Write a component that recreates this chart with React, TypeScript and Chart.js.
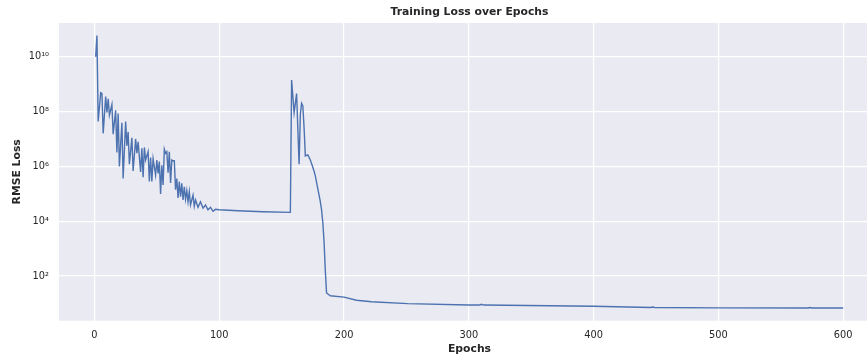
import React, { useEffect, useRef } from 'react';
import { Chart, registerables } from 'chart.js';

Chart.register(...registerables);

const TITLE = 'Training Loss over Epochs';
const X_LABEL = 'Epochs';
const Y_LABEL = 'RMSE Loss';
const X_TICKS = [0, 100, 200, 300, 400, 500, 600];
const Y_TICKS = [1e2, 1e4, 1e6, 1e8, 1e10];
const Y_TICK_LABELS = ['10²', '10⁴', '10⁶', '10⁸', '10¹⁰'];

const epochs = [
  1, 2, 3, 5, 6, 7, 9, 10, 11, 12, 14, 15, 17, 18, 19, 20, 22, 23, 25, 26, 27, 28, 30, 31, 33, 34, 35, 37, 38, 39,
  40, 41, 43, 44, 45, 46, 47, 49, 50, 51, 52, 53, 54, 55, 56, 57, 58, 59, 60, 61, 62, 63, 64, 65, 66, 67, 68, 69,
  70, 71, 72, 73, 74, 75, 76, 77, 79, 80, 81, 83, 85, 87, 89, 91, 93, 95, 97, 100, 115, 135, 157,
  158, 160, 162, 164, 165, 166, 167, 168, 169, 171, 173, 175, 176, 177, 178, 179, 180, 181, 182, 183, 184, 185, 186, 189,
  200, 210, 222, 251, 300, 309, 310, 312, 400, 446, 447, 449, 500, 572, 573, 575, 600,
];

const loss = [
  1.0e10, 5.9e10, 4.3e7, 4.9e8, 4.6e8, 1.6e7, 3.5e8, 9.3e7, 2.9e8, 7.4e7, 1.8e8, 1.5e7, 1.1e8, 3.2e6, 8.5e7, 9.8e5,
  3.9e7, 3.6e5, 4.3e7, 5.6e6, 1.8e7, 1.2e6, 1.1e7, 6.8e5, 1.0e7, 3.0e6, 7.9e6, 6.3e5, 4.6e6, 4.0e5,
  4.9e6, 1.7e6, 3.4e6, 2.8e5, 2.1e6, 2.8e5, 1.9e6, 4.8e5, 1.7e6, 5.5e5, 1.5e6, 9.8e4, 1.1e6, 2.1e5, 4.2e6, 3.0e6,
  3.4e6, 5.9e5, 3.4e6, 2.5e5, 1.7e6, 1.6e6, 1.6e6, 1.4e5, 3.6e5, 7.1e4, 2.8e5, 7.8e4,
  2.4e5, 5.9e4, 1.8e5, 6.3e4, 1.3e5, 5.1e4, 1.2e5, 3.9e4, 8.9e4, 3.5e4, 5.9e4, 3.2e4, 5.1e4, 3.0e4, 3.9e4, 2.6e4,
  3.2e4, 2.3e4, 2.7e4, 2.6e4, 2.4e4, 2.2e4, 2.1e4,
  1.4e9, 9.1e7, 4.5e8, 1.2e6, 7.9e7, 2.0e8, 1.6e8, 2.5e7, 2.4e6, 2.6e6, 1.7e6, 9.3e5, 6.6e5, 4.5e5, 2.6e5, 1.5e5,
  8.9e4, 5.2e4, 2.6e4, 8.9e3, 1.8e3, 160, 24, 19,
  17, 13, 11.5, 9.8, 8.7, 8.7, 9.3, 8.7, 7.9, 7.1, 7.4, 7.1, 6.9, 6.8, 7.1, 6.8, 6.8,
];

const FONT = 'DejaVu Sans';
const TEXT = '#262626';

export default function App() {
  const ref = useRef<HTMLCanvasElement>(null);

  useEffect(() => {
    document.body.style.margin = '0';
    const bg = {
      id: 'plotBg',
      beforeDraw(chart: any) {
        const { ctx, chartArea: a } = chart;
        ctx.save();
        ctx.fillStyle = '#EAEAF2';
        ctx.fillRect(a.left, a.top, a.right - a.left, a.bottom - a.top);
        ctx.restore();
      },
    };
    const chart = new Chart(ref.current as HTMLCanvasElement, {
      type: 'line',
      data: {
        datasets: [
          {
            data: epochs.map((e, i) => ({ x: e, y: loss[i] })),
            borderColor: '#4C72B0',
            borderWidth: 1.4,
            pointRadius: 0,
            tension: 0,
            fill: false,
          },
        ],
      },
      options: {
        animation: false,
        responsive: false,
        maintainAspectRatio: false,
        devicePixelRatio: 1,
        layout: { padding: 0 },
        plugins: {
          legend: { display: false },
          tooltip: { enabled: false },
          title: {
            display: true,
            text: TITLE,
            fullSize: false,
            color: TEXT,
            font: { family: FONT, size: 10.8, weight: 'bold', lineHeight: 1.2 },
            padding: { top: 6, bottom: 4 },
          },
        },
        scales: {
          x: {
            type: 'linear',
            min: -28.4,
            max: 629.5,
            afterFit(s: any) {
              s.height = 37.3;
            },
            afterBuildTicks(s: any) {
              s.ticks = X_TICKS.map((v) => ({ value: v }));
            },
            grid: { color: '#ffffff', lineWidth: 1.2, drawTicks: false },
            border: { display: false },
            ticks: {
              color: TEXT,
              font: { family: FONT, size: 9.8 },
              padding: 9,
              maxRotation: 0,
              autoSkip: false,
              callback: (v: any) => String(v),
            },
            title: {
              display: true,
              text: X_LABEL,
              color: TEXT,
              font: { family: FONT, size: 10.8, weight: 'bold', lineHeight: 1.2 },
              padding: { top: 0, bottom: 2.5 },
            },
          },
          y: {
            type: 'logarithmic',
            min: 2.34,
            max: 1.7e11,
            afterFit(s: any) {
              s.width = 59;
            },
            afterBuildTicks(s: any) {
              s.ticks = Y_TICKS.map((v) => ({ value: v }));
            },
            grid: { color: '#ffffff', lineWidth: 1.2, drawTicks: false },
            border: { display: false },
            ticks: {
              color: TEXT,
              font: { family: FONT, size: 9.8 },
              padding: 10,
              autoSkip: false,
              callback: (v: any) => {
                const i = Y_TICKS.indexOf(Number(v));
                return i >= 0 ? Y_TICK_LABELS[i] : '';
              },
            },
            title: {
              display: true,
              text: Y_LABEL,
              color: TEXT,
              font: { family: FONT, size: 10.8, weight: 'bold', lineHeight: 1.2 },
              padding: { top: 11, bottom: 0 },
            },
          },
        },
      },
      plugins: [bg],
    } as any);
    return () => chart.destroy();
  }, []);

  return (
    <div style={{ position: 'absolute', left: 0, top: 0, width: 867, height: 358, overflow: 'hidden' }}>
      <canvas ref={ref} width={880} height={358} style={{ width: 880, height: 358, display: 'block' }} />
    </div>
  );
}
